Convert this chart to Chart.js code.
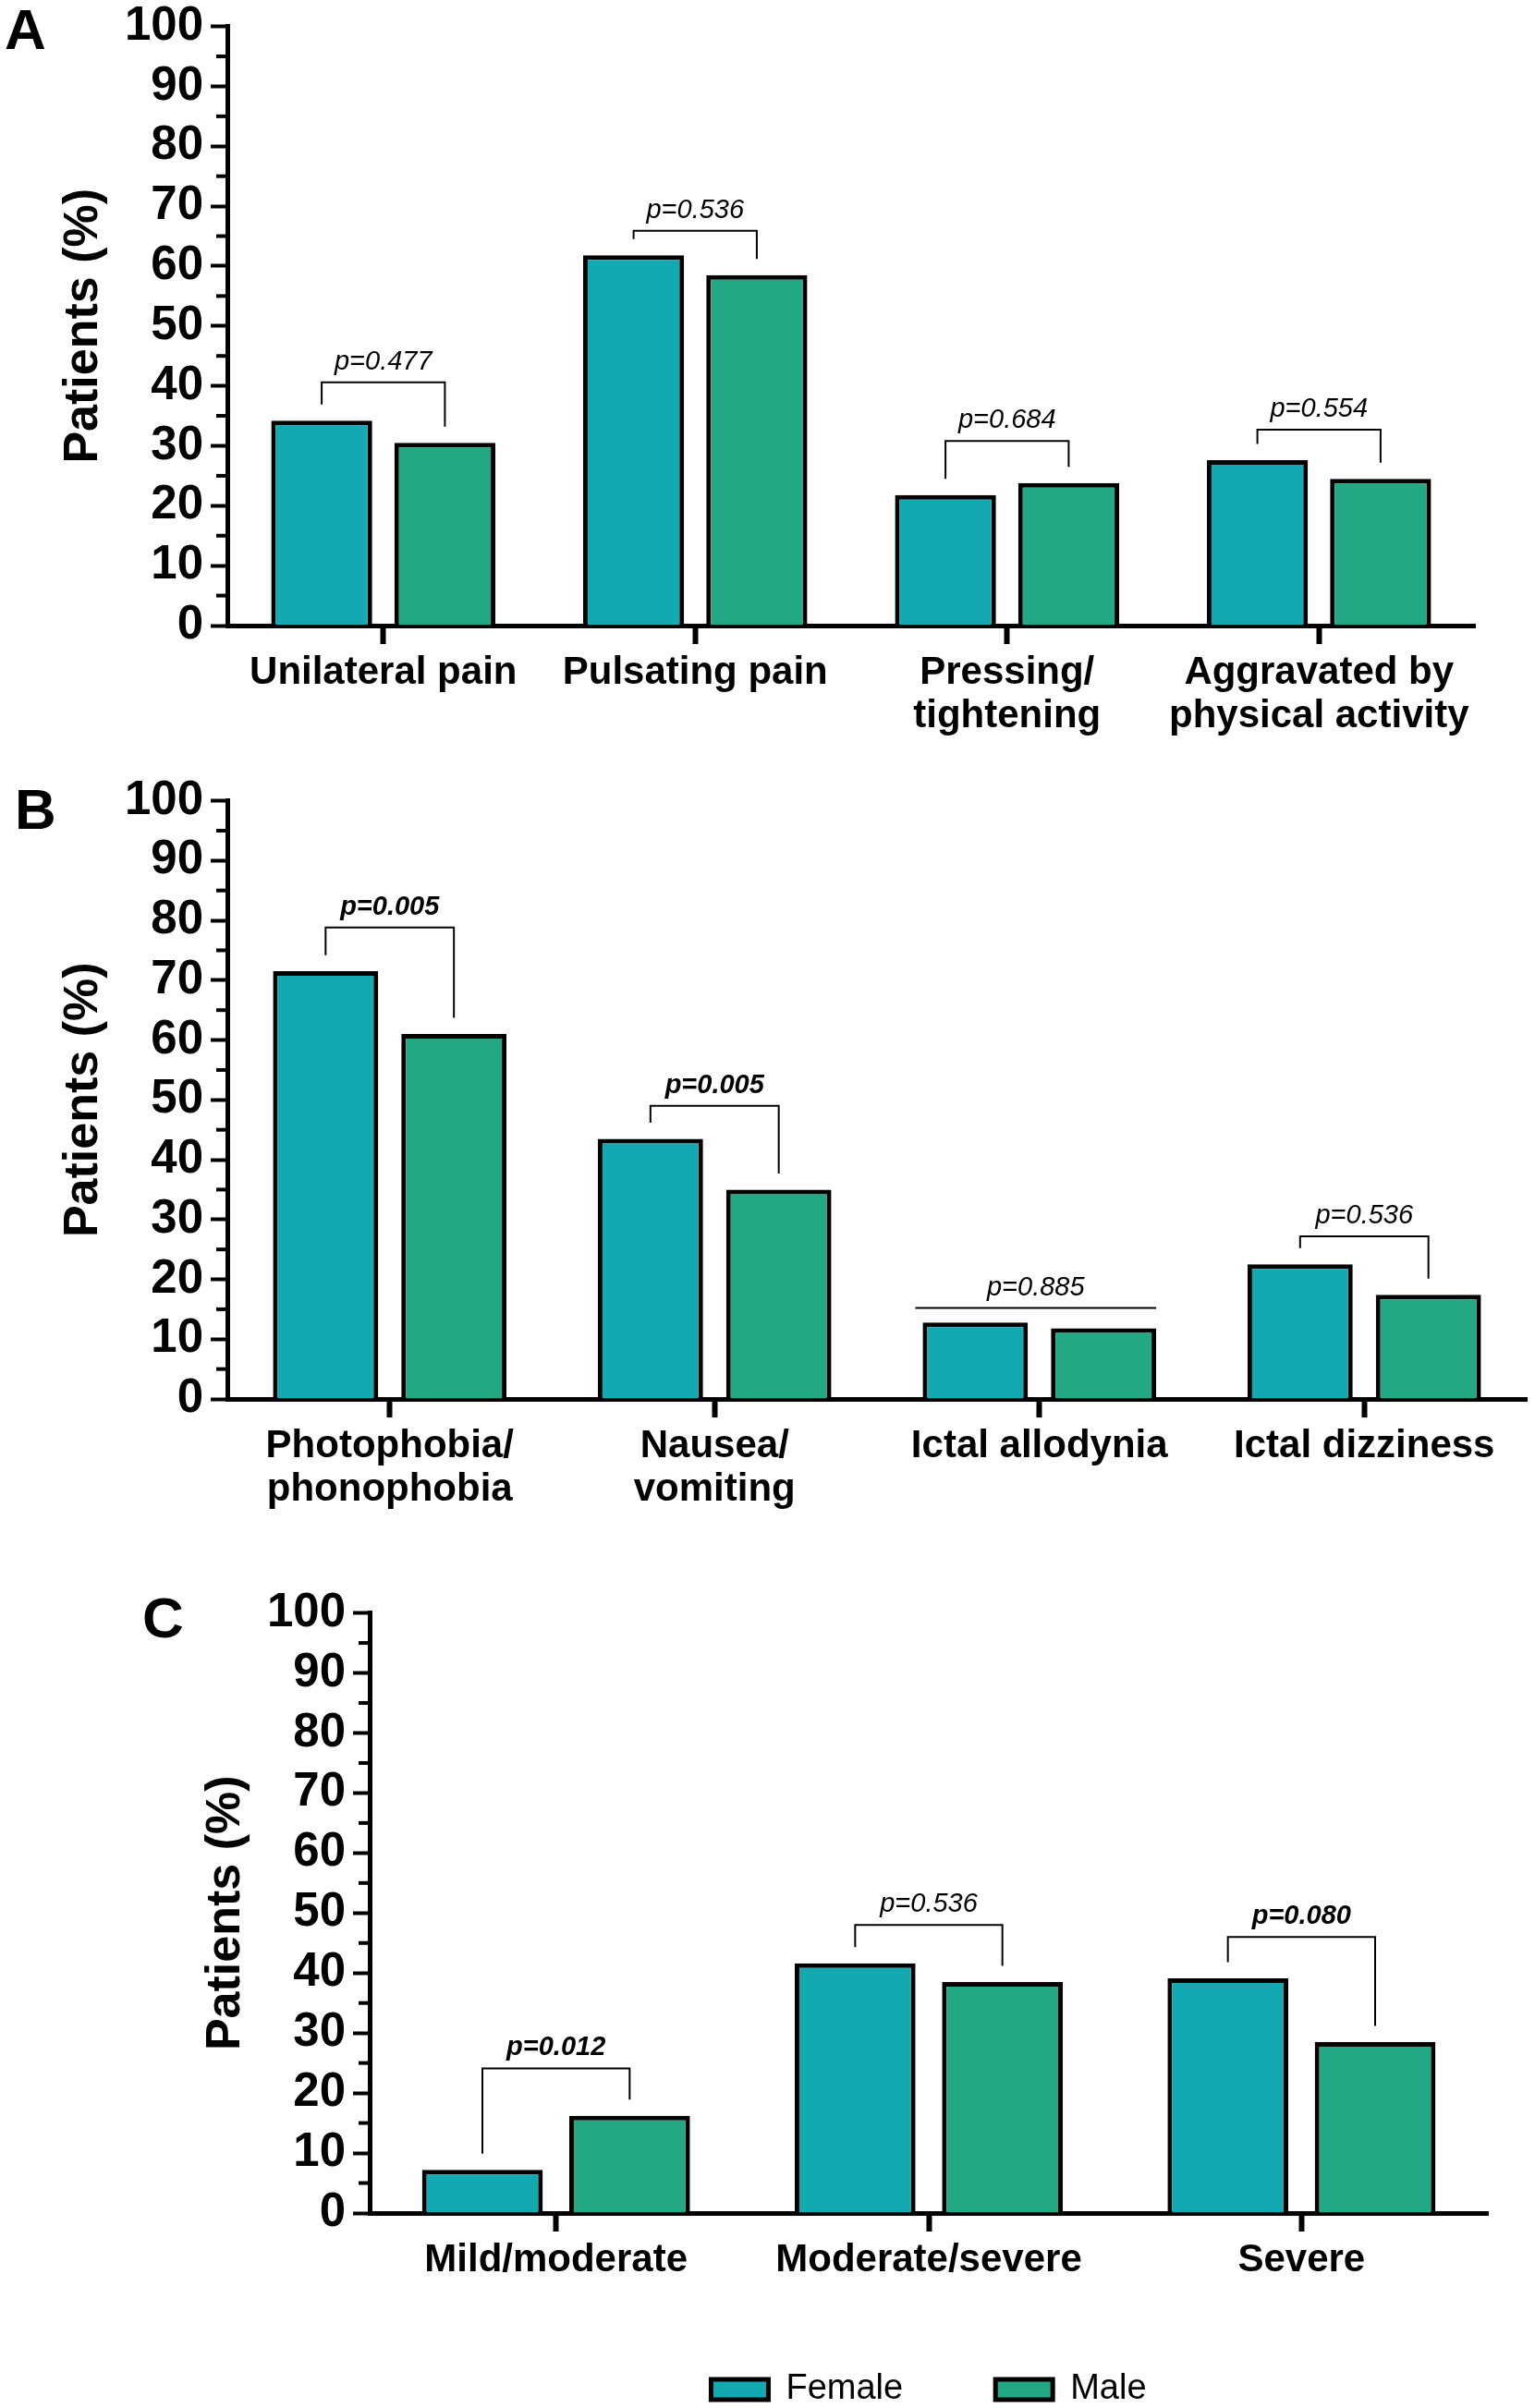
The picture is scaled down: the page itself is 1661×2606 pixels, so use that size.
<!DOCTYPE html>
<html>
<head>
<meta charset="utf-8">
<title>Patients by sex</title>
<script src="https://cdn.jsdelivr.net/npm/chart.js@4.4.1/dist/chart.umd.min.js"></script>
<style>
  html, body { margin: 0; padding: 0; background: #fff; overflow: hidden; }
  body { width: 1661px; height: 2606px; position: relative; }
  .wrap { position: absolute; left: 0; width: 1661px; }
  .letter { position: absolute; font: bold 62px "Liberation Sans", Arial, sans-serif; line-height: 1; color: #000; }
</style>
</head>
<body>
<div class="letter" style="left:5px;top:1px">A</div>
<div class="letter" style="left:16px;top:845px">B</div>
<div class="letter" style="left:154px;top:1720px">C</div>

<div class="wrap" style="top:-10px;height:812px"><canvas id="chartA"></canvas></div>
<div class="wrap" style="top:828px;height:811px"><canvas id="chartB"></canvas></div>
<div class="wrap" style="top:1707px;height:908px"><canvas id="chartC"></canvas></div>

<script>
// panel A - pain characteristics
const catsA = ['Unilateral pain', 'Pulsating pain', ['Pressing/', 'tightening'], ['Aggravated by', 'physical activity']];
const femaleA = [34.2, 61.8, 21.8, 27.6];
const maleA = [30.5, 58.5, 23.8, 24.5];
const pA = [0.477, 0.536, 0.684, 0.554];
const bracketA = [40.6, 65.9, 30.8, 32.7];

// panel B - associated symptoms
const catsB = [['Photophobia/', 'phonophobia'], ['Nausea/', 'vomiting'], 'Ictal allodynia', 'Ictal dizziness'];
const femaleB = [71.5, 43.5, 12.8, 22.5];
const maleB = [61.0, 35.0, 11.8, 17.4];
const pB = [0.005, 0.005, 0.885, 0.536];
const bracketB = [78.8, 49.0, 15.2, 27.2];

// panel C - intensity
const catsC = ['Mild/moderate', 'Moderate/severe', 'Severe'];
const femaleC = [7.2, 41.6, 39.1];
const maleC = [16.2, 38.5, 28.5];
const pC = [0.012, 0.536, 0.080];
const bracketC = [24.1, 48.0, 46.0];

const seriesNames = ['Female', 'Male'];

const FONT = '"Liberation Sans", Arial, Helvetica, sans-serif';
const FEMALE_COL = '#13A9B1';
const MALE_COL = '#23A886';

Chart.defaults.font.family = FONT;
Chart.defaults.color = '#000';

// short ticks at the half-decades on the y axis
const minorTicks = {
  id: 'minorTicks',
  afterDraw(chart) {
    const y = chart.scales.y, ctx = chart.ctx;
    const x0 = chart.chartArea.left;
    ctx.save();
    ctx.strokeStyle = '#000';
    ctx.lineWidth = 4;
    for (let v = 5; v < 100; v += 10) {
      const py = y.getPixelForValue(v);
      ctx.beginPath();
      ctx.moveTo(x0 - 12, py);
      ctx.lineTo(x0, py);
      ctx.stroke();
    }
    ctx.restore();
  }
};

// p-value brackets above each pair of bars
function makeBrackets(pValues, levels, flat) {
  return {
    id: 'brackets',
    afterDatasetsDraw(chart) {
      const ctx = chart.ctx, y = chart.scales.y;
      const f = chart.getDatasetMeta(0).data, m = chart.getDatasetMeta(1).data;
      const fv = chart.data.datasets[0].data, mv = chart.data.datasets[1].data;
      const gap = 2.7;
      ctx.save();
      ctx.strokeStyle = '#000';
      ctx.fillStyle = '#000';
      ctx.lineWidth = 2;
      pValues.forEach((p, i) => {
        const yb = y.getPixelForValue(levels[i]);
        let xl = f[i].x, xr = m[i].x;
        ctx.beginPath();
        if (flat.includes(i)) {
          xl = f[i].x - f[i].width / 2 - 8;
          xr = m[i].x + m[i].width / 2;
          ctx.moveTo(xl, yb);
          ctx.lineTo(xr, yb);
        } else {
          ctx.moveTo(xl, y.getPixelForValue(fv[i] + gap));
          ctx.lineTo(xl, yb);
          ctx.lineTo(xr, yb);
          ctx.lineTo(xr, y.getPixelForValue(mv[i] + gap));
        }
        ctx.stroke();
        ctx.font = (p < 0.1 ? 'italic bold ' : 'italic ') + '29px ' + FONT;
        ctx.textAlign = 'center';
        ctx.textBaseline = 'alphabetic';
        ctx.fillText('p=' + p.toFixed(3), (xl + xr) / 2, yb - 14);
      });
      ctx.restore();
    }
  };
}

function makeChart(id, cats, female, male, pValues, levels, flat, lay) {
  const ctx = document.getElementById(id);
  return new Chart(ctx, {
    type: 'bar',
    data: {
      labels: cats,
      datasets: [
        { label: seriesNames[0], data: female, backgroundColor: FEMALE_COL, borderColor: '#000', borderWidth: 5 },
        { label: seriesNames[1], data: male, backgroundColor: MALE_COL, borderColor: '#000', borderWidth: 5 }
      ]
    },
    options: {
      responsive: true,
      maintainAspectRatio: false,
      animation: false,
      datasets: { bar: { categoryPercentage: 0.79, barPercentage: 0.82 } },
      layout: { padding: { top: 35, left: lay.left, right: lay.right, bottom: 0 } },
      plugins: {
        tooltip: { enabled: false },
        legend: lay.legend ? {
          display: true,
          position: 'bottom',
          fullSize: false,
          labels: { boxWidth: 62, boxHeight: 22, padding: 100, color: '#000', font: { size: 38, weight: 'normal' } }
        } : { display: false }
      },
      scales: {
        x: {
          ticks: { font: { size: 42, weight: 'bold', lineHeight: 1.12 }, color: '#000', padding: 8, maxRotation: 0, autoSkip: false },
          grid: { drawOnChartArea: false, offset: false, tickLength: 20, tickWidth: 6, tickColor: '#000' },
          border: { color: '#000', width: 5 },
          afterFit: s => { s.height = lay.xh; }
        },
        y: {
          min: 0,
          max: 100,
          ticks: { stepSize: 10, font: { size: 51, weight: 'bold' }, color: '#000', padding: 8 },
          grid: { drawOnChartArea: false, tickLength: 18, tickWidth: 4, tickColor: '#000' },
          border: { color: '#000', width: 5 },
          title: { display: true, text: 'Patients (%)', color: '#000', font: { size: 52, weight: 'bold' }, padding: { top: 4, bottom: 4 } },
          afterFit: s => { s.width = lay.yw; }
        }
      }
    },
    plugins: [minorTicks, makeBrackets(pValues, levels, flat)]
  });
}

makeChart('chartA', catsA, femaleA, maleA, pA, bracketA, [], { left: 55, right: 65, yw: 191, xh: 125, legend: false });
makeChart('chartB', catsB, femaleB, maleB, pB, bracketB, [2], { left: 55, right: 9, yw: 191, xh: 125, legend: false });
makeChart('chartC', catsC, femaleC, maleC, pC, bracketC, [], { left: 209, right: 51, yw: 191, xh: 72, legend: true });
</script>
</body>
</html>
